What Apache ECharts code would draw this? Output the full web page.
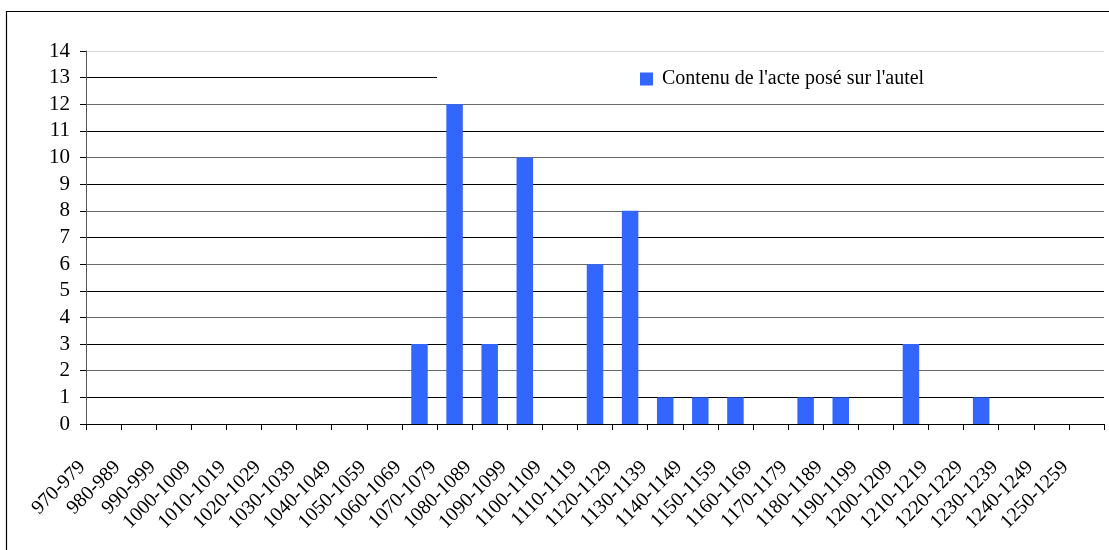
<!DOCTYPE html>
<html>
<head>
<meta charset="utf-8">
<script src="https://cdn.jsdelivr.net/npm/echarts@6/dist/echarts.min.js"></script>
<style>
  html, body { margin: 0; padding: 0; background: #fff; }
  #chart { width: 1109px; height: 550px; }
</style>
</head>
<body>
<div id="chart"></div>
<script>
var chartDom = document.getElementById("chart");
var chart = echarts.init(chartDom, null, { renderer: "canvas" });

// decades
const categories = [
  "970-979", "980-989", "990-999", "1000-1009", "1010-1019", "1020-1029",
  "1030-1039", "1040-1049", "1050-1059", "1060-1069", "1070-1079", "1080-1089",
  "1090-1099", "1100-1109", "1110-1119", "1120-1129", "1130-1139", "1140-1149",
  "1150-1159", "1160-1169", "1170-1179", "1180-1189", "1190-1199", "1200-1209",
  "1210-1219", "1220-1229", "1230-1239", "1240-1249", "1250-1259"
];

const seriesName = "Contenu de l'acte posé sur l'autel";
const values = [
  0, 0, 0, 0, 0, 0, 0, 0, 0, 3, 12, 3, 10, 0, 6, 8, 1, 1, 1, 0, 1, 1, 0, 3, 0, 1, 0, 0, 0
];

const yTicks = { min: 0, max: 14, interval: 1 };

const font = "'Liberation Serif', 'DejaVu Serif', serif";

// split lines: alternate dark / grey like the original, top one light
var gridColors = [];
for (var i = yTicks.min; i <= yTicks.max; i++) {
  if (i == yTicks.max) gridColors.push("#d8d8d8");
  else if (i % 2 == 1) gridColors.push("#000");
  else gridColors.push("#6a6a6a");
}

var option = {
  backgroundColor: "#fff",
  animation: false,
  textStyle: { fontFamily: font },
  grid: {
    left: 86,
    right: 5,
    top: 51,
    bottom: 126,
    containLabel: false,
  },
  legend: {
    data: [seriesName],
    icon: "rect",
    left: 635,
    top: 64,
    itemWidth: 13,
    itemHeight: 13,
    itemGap: 8,
    z: 10,
    textStyle: { fontFamily: font, fontSize: 20, color: "#000", padding: [0, 0, 0, 4] },
  },
  graphic: [
    {
      type: "rect",
      z: 5,
      shape: { x: 437, y: 62, width: 672, height: 30 },
      style: { fill: "#fff" },
    },
    {
      type: "rect",
      z: 20,
      silent: true,
      shape: { x: 6.5, y: 11.5, width: 1110, height: 600 },
      style: { fill: "none", stroke: "#000", lineWidth: 1.2 },
    },
  ],
  xAxis: {
    type: "category",
    data: categories,
    boundaryGap: true,
    axisLine: { show: true, lineStyle: { color: "#000", width: 1 } },
    axisTick: { show: true, length: 6, lineStyle: { color: "#000" } },
    axisLabel: {
      interval: 0,
      rotate: 45,
      margin: 19,
      padding: [0, 30, 0, 0],
      fontFamily: font,
      fontSize: 20,
      color: "#000",
    },
    splitLine: { show: false },
  },
  yAxis: {
    type: "value",
    min: yTicks.min,
    max: yTicks.max,
    interval: yTicks.interval,
    axisLine: { show: true, lineStyle: { color: "#555", width: 1 } },
    axisTick: { show: true, length: 6, lineStyle: { color: "#000" } },
    axisLabel: {
      margin: 16,
      fontFamily: font,
      fontSize: 21,
      color: "#000",
    },
    splitLine: { show: true, lineStyle: { color: gridColors, width: 1 } },
  },
  series: [
    {
      name: seriesName,
      type: "bar",
      data: values,
      barWidth: "47%",
      itemStyle: { color: "#3366ff" },
    },
  ],
};

chart.setOption(option);

window.addEventListener("resize", function () {
  chart.resize();
});
</script>
</body>
</html>
